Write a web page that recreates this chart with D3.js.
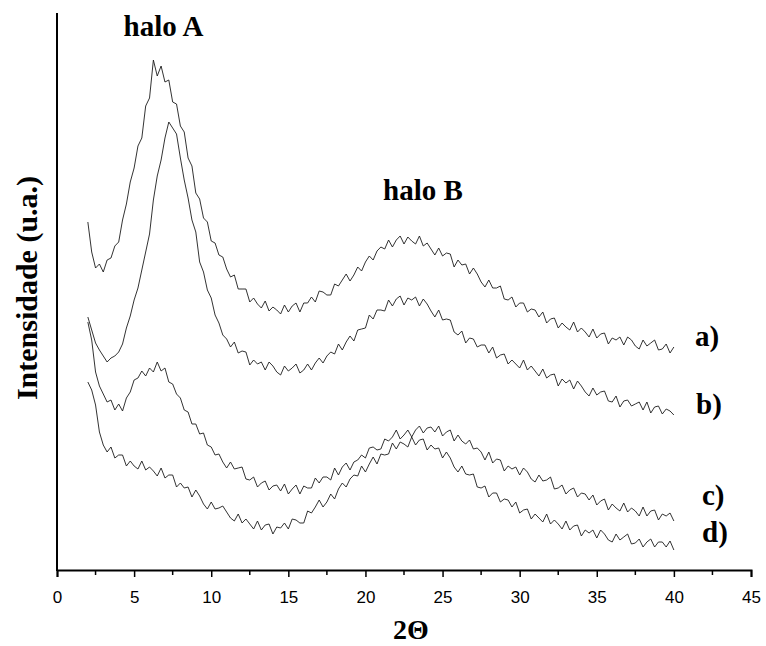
<!DOCTYPE html>
<html><head><meta charset="utf-8">
<script src="https://cdn.jsdelivr.net/npm/d3@7"></script>
<style>body{margin:0;background:#fff}svg{display:block}</style>
</head><body>
<svg id="chart" width="766" height="646"></svg>
<script>
// 2Theta sampling grid (degrees), step 0.25 from 2 to 40
const twoTheta = d3.range(2, 40.001, 0.25);
const xTicks = [0,5,10,15,20,25,30,35,40,45];
const seriesNames = ["a)","b)","c)","d)"];
const haloLabels = ["halo A","halo B"];

const serieA = [348,318,302,306,298,310,312,324,328,350,366,388,402,424,432,464,472,510,494,504,488,490,468,466,444,438,412,404,377,371,352,348,329,327,315,313,
301,293,295,281,281,281,268,272,266,262,269,259,263,260,256,265,258,264,267,258,267,267,273,268,279,278,275,275,286,284,290,296,289,295,303,299,308,314,310,319,323,321,330,323,330,334,326,333,329,326,334,324,327,321,315,322,
314,317,316,303,310,305,306,296,302,296,288,283,290,282,282,284,271,270,273,263,267,267,258,261,260,253,258,247,251,252,242,247,243,240,248,238,242,238,233,241,232,236,237,226,232,230,233,225,233,230,224,221,230,224,227,230,220,221,226,217,223];
const serieB = [253,240,227,220,214,208,212,214,218,226,242,254,270,282,300,318,336,370,394,410,432,448,442,436,412,390,372,350,338,308,298,280,272,255,247,235,
231,223,228,217,219,218,205,210,206,208,200,208,204,198,195,204,199,202,206,197,200,206,200,207,212,207,214,218,216,226,220,228,234,229,240,241,242,255,251,260,
260,259,270,264,271,274,265,272,270,273,264,271,266,259,253,260,250,251,250,238,235,239,227,232,231,223,225,225,217,223,212,215,216,206,210,206,202,210,200,204,
199,194,201,192,195,196,184,191,187,190,181,189,184,178,174,182,175,178,179,169,168,174,163,169,170,164,166,168,160,168,157,163,164,156,161,159,155];
const serieC = [248,230,198,184,176,168,170,160,166,159,172,178,190,192,199,194,202,198,208,199,202,188,186,176,172,160,158,146,146,136,137,125,123,115,116,108,
102,108,101,102,103,91,90,93,83,87,89,80,84,85,79,86,76,81,85,76,84,82,82,92,87,93,93,90,102,95,103,107,100,108,110,115,112,122,123,120,
121,131,129,133,140,131,135,140,133,140,144,137,142,143,138,144,134,138,140,129,135,129,126,130,121,122,118,110,118,107,111,110,99,104,101,103,95,102,98,91,
88,95,89,90,93,81,82,85,76,80,82,73,77,76,70,75,65,69,71,60,66,62,59,67,58,62,59,54,63,54,59,60,50,56,54,57,49];
const serieD = [188,180,165,138,125,118,123,112,115,115,104,109,104,101,109,100,103,99,94,102,92,95,95,83,87,82,83,73,80,74,66,61,68,61,62,64,
58,52,49,56,47,51,46,41,49,40,45,46,36,43,42,47,41,51,50,47,47,59,57,63,70,63,68,76,71,81,87,83,91,95,94,104,98,106,113,106,
116,115,116,127,121,128,126,123,133,125,130,131,120,125,121,122,112,118,112,103,98,104,96,95,96,83,82,84,73,77,77,68,71,70,63,68,57,60,61,51,
56,52,48,56,46,50,46,41,49,40,44,45,34,40,37,40,32,40,36,30,28,36,30,33,36,26,27,31,23,28,31,23,28,28,23,29,20];
const allSeries = [serieA, serieB, serieC, serieD];

const svg = d3.select("#chart");
const x = d3.scaleLinear().domain([0,45]).range([57,751]);
const y = d3.scaleLinear().domain([0,558]).range([570,12]);

// curves
const line = d3.line().x(d=>x(d[0])).y(d=>y(d[1]));
allSeries.forEach(s=>{
  const pts = s.map((v,i)=>[twoTheta[i], v]).filter(p=>p[0]!==undefined);
  svg.append("path").attr("d", line(pts)).attr("fill","none")
     .attr("stroke","#1c1c1c").attr("stroke-width",0.9);
});

// x axis
const xAxis = d3.axisBottom(x).tickValues(xTicks).tickSize(7).tickPadding(14).tickFormat(d3.format("d"));
const gx = svg.append("g").attr("transform","translate(0,570)").call(xAxis);
gx.select(".domain").attr("stroke","#000").attr("stroke-width",2);
gx.selectAll(".tick line").attr("stroke","#000").attr("stroke-width",1.5);
gx.selectAll(".tick text").attr("font-family","'Liberation Sans', Arial, sans-serif")
  .attr("font-size",17).attr("fill","#000");
const minor = d3.range(2.5,45,5);
svg.append("g").selectAll("line").data(minor).join("line")
  .attr("x1",d=>x(d)).attr("x2",d=>x(d)).attr("y1",570).attr("y2",575)
  .attr("stroke","#000").attr("stroke-width",1.5);

// y axis (no ticks)
svg.append("line").attr("x1",57).attr("x2",57).attr("y1",13).attr("y2",571)
  .attr("stroke","#000").attr("stroke-width",2);

const serif = "'Liberation Serif', 'Times New Roman', serif";
svg.append("text").attr("x",411).attr("y",639).attr("text-anchor","middle")
  .attr("font-family",serif).attr("font-weight","bold").attr("font-size",28).text("2Θ");
svg.append("text").attr("transform","translate(37,288) rotate(-90)").attr("text-anchor","middle")
  .attr("font-family",serif).attr("font-weight","bold").attr("font-size",30).text("Intensidade (u.a.)");

svg.append("text").attr("x",163.5).attr("y",36).attr("text-anchor","middle")
  .attr("font-family",serif).attr("font-weight","bold").attr("font-size",29).text(haloLabels[0]);
svg.append("text").attr("x",423).attr("y",200).attr("text-anchor","middle")
  .attr("font-family",serif).attr("font-weight","bold").attr("font-size",29).text(haloLabels[1]);

const labelX = [695,696,702,702];
const labelY = [346,414,505,542];
seriesNames.forEach((n,i)=>{
  svg.append("text").attr("x",labelX[i]).attr("y",labelY[i])
    .attr("font-family",serif).attr("font-weight","bold").attr("font-size",29).text(n);
});
</script>
</body></html>
